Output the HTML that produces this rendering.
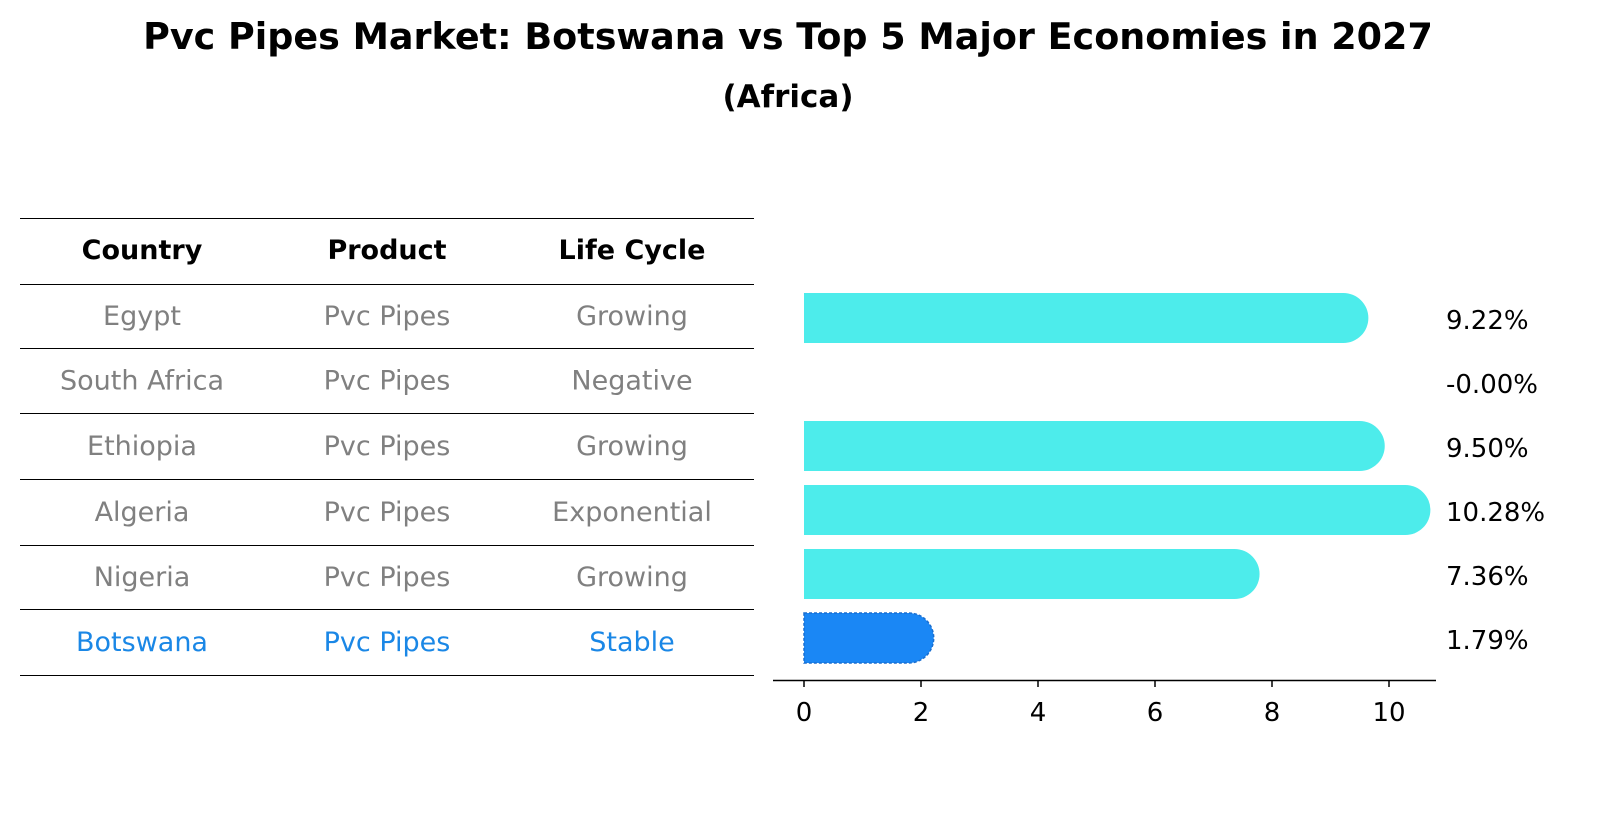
<!DOCTYPE html>
<html><head><meta charset="utf-8"><style>
body{margin:0;background:#fff;font-family:"Liberation Sans","DejaVu Sans",sans-serif}
svg text{font-family:"DejaVu Sans","Liberation Sans",sans-serif}
</style></head><body>
<svg width="1604" height="823" viewBox="0 0 1604 823" xmlns="http://www.w3.org/2000/svg">
<text x="788" y="49" text-anchor="middle" font-size="36.5" font-weight="bold">Pvc Pipes Market: Botswana vs Top 5 Major Economies in 2027</text>
<text x="788" y="107" text-anchor="middle" font-size="31" font-weight="bold">(Africa)</text>
<g id="table"></g>
<g id="bars"></g>
</svg>
<script>
const countries=["Egypt","South Africa","Ethiopia","Algeria","Nigeria","Botswana"];
const products=["Pvc Pipes","Pvc Pipes","Pvc Pipes","Pvc Pipes","Pvc Pipes","Pvc Pipes"];
const lifeCycles=["Growing","Negative","Growing","Exponential","Growing","Stable"];
const growth=[9.22,-0.00,9.50,10.28,7.36,1.79];
const xTicks=[0,2,4,6,8,10];
const NS="http://www.w3.org/2000/svg";
function mk(t,a,p){const e=document.createElementNS(NS,t);for(const k in a)e.setAttribute(k,a[k]);p.appendChild(e);return e;}
const tbl=document.getElementById('table');
const lineY=[218,284,348,413,479,545,609,675];
lineY.forEach(y=>{const l=mk('line',{x1:20,x2:754,y1:y+0.5,y2:y+0.5,stroke:'#000','stroke-width':1},tbl);

});
const colX=[142,387,632];
["Country","Product","Life Cycle"].forEach((h,i)=>{const t=mk('text',{x:colX[i],y:259,'text-anchor':'middle','font-size':27,'font-weight':'bold'},tbl);t.textContent=h;

});
countries.forEach((c,r)=>{const y=(lineY[r+1]+lineY[r+2])/2+9;const col=c==="Botswana"?'#1a87e6':'#808080';
[c,products[r],lifeCycles[r]].forEach((v,i)=>{const t=mk('text',{x:colX[i],y:y,'text-anchor':'middle','font-size':27,fill:col},tbl);t.textContent=v;

});});
const g=document.getElementById('bars');
const x0=804,pxPer=58.5;const xs=v=>x0+v*pxPer;
const rowY=r=>318+r*64;const bh=50,cap=25;
growth.forEach((v,r)=>{const cy=rowY(r);const bot=countries[r]==="Botswana";
if(v>0){const xe=xs(v);
const p=mk('path',{d:`M${x0},${cy-bh/2} H${xe} A${cap},${cap} 0 0 1 ${xe},${cy+bh/2} H${x0} Z`,fill:bot?'#1a87f5':'#4deceb',stroke:bot?'#1a6fd0':'none','stroke-dasharray':bot?'3,2':'none','stroke-width':bot?1.5:0},g);

}
const t=mk('text',{x:1446,y:cy+11,'font-size':26},g);t.textContent=v.toFixed(2)+'%';if(v===0)t.textContent='-0.00%';

});
const ax=mk('line',{x1:773,x2:1436,y1:680.5,y2:680.5,stroke:'#000','stroke-width':1.5},g);


xTicks.forEach(v=>{const tk=mk('line',{x1:xs(v),x2:xs(v),y1:680,y2:687,stroke:'#000','stroke-width':1.5},g);


const t=mk('text',{x:xs(v),y:721,'text-anchor':'middle','font-size':26},g);t.textContent=v;

});
</script>
</body></html>
